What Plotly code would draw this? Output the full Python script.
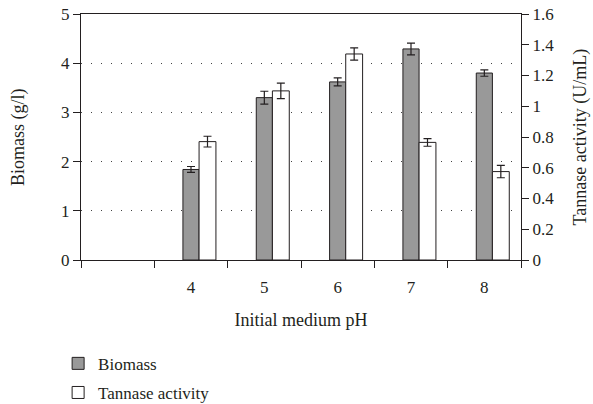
import plotly.graph_objects as go

categories = [" ", "4", "5", "6", "7", "8"]
ph = ["4", "5", "6", "7", "8"]
biomass = [1.84, 3.30, 3.62, 4.29, 3.80]
biomass_err = [0.06, 0.13, 0.08, 0.12, 0.065]
tannase = [0.77, 1.10, 1.34, 0.765, 0.575]
tannase_err = [0.035, 0.05, 0.04, 0.025, 0.04]
left_ticks = [0, 1, 2, 3, 4, 5]
right_ticks = [0, 0.2, 0.4, 0.6, 0.8, 1, 1.2, 1.4, 1.6]
right_labels = ["0", "0.2", "0.4", "0.6", "0.8", "1", "1.2", "1.4", "1.6"]

FONT = "Liberation Serif"
ink = "#231f20"
NB = "\u00a0"

fig = go.Figure()
fig.add_trace(go.Bar(
    x=ph, y=biomass, name="Biomass", legendgroup="a",
    marker=dict(color="#999999", line=dict(color=ink, width=1)),
    width=0.22, offset=-0.11,
    error_y=dict(type="data", array=biomass_err, color=ink, thickness=1.2, width=4),
    yaxis="y",
))
fig.add_trace(go.Bar(
    x=ph, y=tannase, name="Tannase activity", legendgroup="b",
    marker=dict(color="white", line=dict(color=ink, width=1)),
    width=0.23, offset=0.11,
    error_y=dict(type="data", array=tannase_err, color=ink, thickness=1.2, width=4),
    yaxis="y2",
))

fig.update_layout(
    width=593, height=404,
    margin=dict(l=81, r=72, t=14, b=144, autoexpand=False),
    paper_bgcolor="white", plot_bgcolor="white",
    barmode="overlay",
    font=dict(family=FONT, size=17, color=ink),
    xaxis=dict(
        type="category", categoryorder="array", categoryarray=categories,
        range=[-0.5, 5.5], tickson="boundaries", ticks="outside", ticklen=7,
        tickcolor=ink, showline=True, linecolor=ink, linewidth=1.2,
        mirror=True, showgrid=False, ticklabelstandoff=11,
        title=dict(text="Initial medium pH", standoff=17, font=dict(size=18)),
    ),
    yaxis=dict(
        range=[0, 5], tickvals=left_ticks, ticks="outside", ticklen=7,
        tickcolor=ink, showline=True, linecolor=ink, linewidth=1.2,
        showgrid=True, gridcolor="#444444", griddash="1px,9px", gridwidth=1,
        zeroline=False, ticksuffix=NB * 3,
    ),
    yaxis2=dict(
        range=[0, 1.6], tickvals=right_ticks, ticktext=right_labels,
        overlaying="y", side="right", ticks="outside", ticklen=7,
        tickcolor=ink, showline=True, linecolor=ink, linewidth=1.2,
        showgrid=False, zeroline=False, tickprefix=NB * 2,
    ),
    annotations=[
        dict(
            text="Biomass (g/l)", textangle=-90, xref="paper", yref="paper",
            x=-0.143, y=0.5, xanchor="center", yanchor="middle",
            showarrow=False, font=dict(size=18, family=FONT, color=ink),
        ),
        dict(
            text="Tannase activity (U/mL)", textangle=-90, xref="paper", yref="paper",
            x=1.135, y=0.5, xanchor="center", yanchor="middle",
            showarrow=False, font=dict(size=18, family=FONT, color=ink),
        ),
    ],
    showlegend=True,
    legend=dict(
        xref="container", yref="container", x=0.098, y=0.144,
        xanchor="left", yanchor="top", orientation="v",
        font=dict(size=17), bgcolor="rgba(0,0,0,0)", tracegroupgap=4,
        traceorder="grouped",
    ),
)

fig.write_html("out.html", config={"displayModeBar": False},
               post_script="document.body.style.margin='0';")
